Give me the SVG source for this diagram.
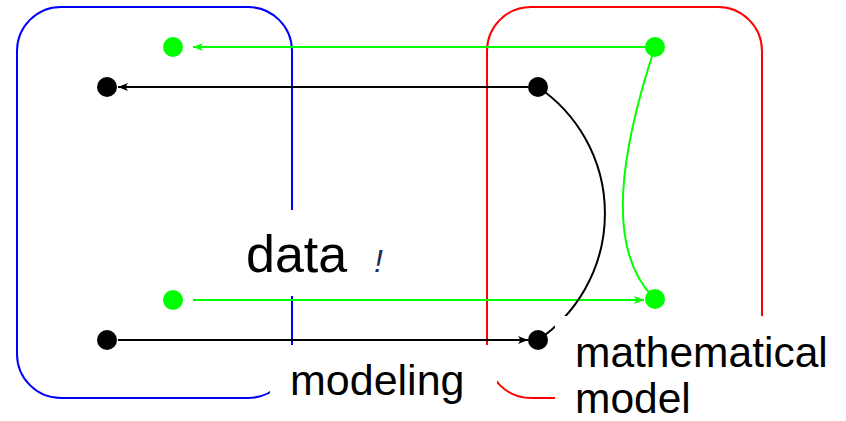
<svg xmlns="http://www.w3.org/2000/svg" width="846" height="421" viewBox="0 0 846 421">
<defs>
<style>
.box{fill:none;stroke-width:2}
.ln{fill:none;stroke-width:2}
.k{stroke:#000}
.g{stroke:#00ff00}
.lbl{font-family:"Liberation Sans",Arial,sans-serif;fill:#000}
.bg{fill:#fff;stroke:none}
</style>
<marker id="ak" viewBox="0 0 10 8" refX="10" refY="4" markerWidth="10" markerHeight="8" markerUnits="userSpaceOnUse" orient="auto">
<path d="M0,0 L10,4 L0,8 L2.5,4 Z" fill="#000"/>
</marker>
<marker id="ag" viewBox="0 0 10 8" refX="10" refY="4" markerWidth="10" markerHeight="8" markerUnits="userSpaceOnUse" orient="auto">
<path d="M0,0 L10,4 L0,8 L2.5,4 Z" fill="#00ff00"/>
</marker>
</defs>
<rect width="846" height="421" fill="#fff"/>
<g id="data-box"><rect class="box" x="17" y="7" width="275" height="391" rx="44" stroke="#0000ff"/></g>
<g id="model-box"><rect class="box" x="487" y="7" width="275" height="391" rx="44" stroke="#ff0000"/></g>
<g id="connectors">
<line class="ln g" x1="645" y1="47" x2="193" y2="47" marker-end="url(#ag)"/>
<line class="ln k" x1="528" y1="87" x2="118" y2="87" marker-end="url(#ak)"/>
<line class="ln g" x1="193" y1="300" x2="644" y2="300" marker-end="url(#ag)"/>
<line class="ln k" x1="118" y1="340" x2="528" y2="340" marker-end="url(#ak)"/>
<path class="ln k" d="M538,87 A153,153 0 0 1 538,340" stroke-width="2.5"/>
<path class="ln g" d="M655,47 C621,150 604,250 655,299"/>
</g>
<g id="d-green-top"><circle cx="173" cy="47" r="10" fill="#00ff00"/></g>
<g id="d-black-top"><circle cx="107" cy="87" r="10" fill="#000"/></g>
<g id="d-green-bot"><circle cx="173" cy="300" r="10" fill="#00ff00"/></g>
<g id="d-black-bot"><circle cx="107" cy="340" r="10" fill="#000"/></g>
<g id="m-green-top"><circle cx="655" cy="47" r="10" fill="#00ff00"/></g>
<g id="m-black-top"><circle cx="538" cy="87" r="10" fill="#000"/></g>
<g id="m-green-bot"><circle cx="655" cy="299" r="10" fill="#00ff00"/></g>
<g id="m-black-bot"><circle cx="538" cy="340" r="10" fill="#000"/></g>
<g id="label-data">
<rect class="bg" x="232" y="210" width="140" height="86"/>
<text class="lbl" x="246" y="272" font-size="52">data</text>
<text x="374" y="272" font-size="32" font-style="italic" fill="#1b2b5b" font-family="Liberation Sans, Arial, sans-serif">!</text>
</g>
<g id="label-modeling">
<rect class="bg" x="270" y="345" width="227" height="76"/>
<text class="lbl" x="290" y="395" font-size="43">modeling</text>
</g>
<g id="label-model">
<rect class="bg" x="555" y="316" width="291" height="105"/>
<text class="lbl" x="575" y="367" font-size="42.5">mathematical</text>
<text class="lbl" x="575" y="413" font-size="42.5">model</text>
</g>
</svg>
